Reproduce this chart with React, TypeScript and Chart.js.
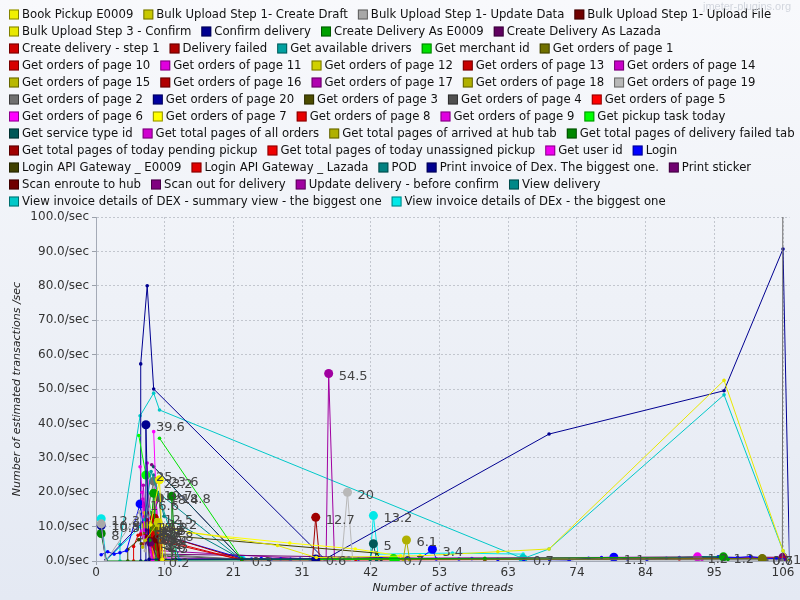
import React, { useEffect, useRef } from "react";
import { Chart, registerables } from "chart.js";

Chart.register(...registerables);

const seriesNames = [
  "Book Pickup E0009", "Bulk Upload Step 1- Create Draft", "Bulk Upload Step 1- Update Data", "Bulk Upload Step 1- Upload File",
  "Bulk Upload Step 3 - Confirm", "Confirm delivery", "Create Delivery As E0009", "Create Delivery As Lazada",
  "Create delivery - step 1", "Delivery failed", "Get available drivers", "Get merchant id", "Get orders of page 1",
  "Get orders of page 10", "Get orders of page 11", "Get orders of page 12", "Get orders of page 13", "Get orders of page 14",
  "Get orders of page 15", "Get orders of page 16", "Get orders of page 17", "Get orders of page 18", "Get orders of page 19",
  "Get orders of page 2", "Get orders of page 20", "Get orders of page 3", "Get orders of page 4", "Get orders of page 5",
  "Get orders of page 6", "Get orders of page 7", "Get orders of page 8", "Get orders of page 9", "Get pickup task today",
  "Get service type id", "Get total pages of all orders", "Get total pages of arrived at hub tab", "Get total pages of delivery failed tab",
  "Get total pages of today pending pickup", "Get total pages of today unassigned pickup", "Get user id", "Login",
  "Login API Gateway _ E0009", "Login API Gateway _ Lazada", "POD", "Print invoice of Dex. The biggest one.", "Print sticker",
  "Scan enroute to hub", "Scan out for delivery", "Update delivery - before confirm", "View delivery",
  "View invoice details of DEX - summary view - the biggest one", "View invoice details of DEx - the biggest one",
];

const seriesColors = [
  "#f0f000", "#c8c800", "#a8a8a8", "#700000",
  "#e8e800", "#000090", "#00a000", "#600060",
  "#d00000", "#b00000", "#00a0a0", "#00e000", "#707000",
  "#d80000", "#e000e0", "#d0d000", "#c80000", "#c800c8",
  "#b8b800", "#b00000", "#b000b0", "#b0b000", "#b8b8b8",
  "#707070", "#0000a0", "#4c4c00", "#505050", "#ff0000",
  "#ff00ff", "#ffff00", "#e80000", "#e000e0", "#00ff00",
  "#005858", "#d000d0", "#b0b000", "#008800",
  "#a00000", "#f00000", "#f000f0", "#0000ff",
  "#404000", "#e00000", "#008080", "#000090", "#700070",
  "#700000", "#800080", "#a000a0", "#008888",
  "#00c8c8", "#00e8e8",
];

// [threads, transactions/sec]
const d01 = [[8.4, 10.5], [9.8, 23.6], [10.3, 0.5]];
const d02 = [[7.6, 6], [9.6, 11.2], [10.1, 0.4]];
const d03 = [[0.8, 10.8], [1.5, 0], [6.7, 14.3], [7.6, 3]];
const d04 = [[7.8, 7], [9.4, 6.4], [9.9, 0.3]];
const d05 = [[9.3, 12], [10.5, 9.5], [28, 4.5], [34, 1], [50, 1.5], [62, 2.7], [69.9, 3.5], [96.9, 52.5], [106, 3], [107, 0]];
const d06 = [[7.7, 0], [7.7, 39.6], [8.2, 0.5], [33.9, 0.6]];
const d07 = [[8.3, 6], [8.9, 19.7], [9.3, 0.4], [22.5, 0.5], [60, 0.8], [96.8, 1.2], [97.5, 0.5]];
const d08 = [[7.8, 9], [8.4, 5.5], [9.6, 0.3]];
const d09 = [[6.9, 7.8], [8.6, 7.5], [10.5, 5.5], [22.5, 0.3]];
const d10 = [[7.4, 5], [9.0, 12.5], [9.7, 0.5]];
const d11 = [[7.5, 12], [8.5, 26], [12.9, 0.3], [22.5, 0.4]];
const d12 = [[9.8, 35.7], [22.5, 0.5], [34, 0.4], [45.9, 0.7], [46.6, 0.3]];
const d13 = [[7.3, 8], [9.2, 9.5], [10, 0.3], [60, 0.5], [102.8, 0.7]];
const d14 = [[7.9, 12], [9.0, 8.0], [9.6, 0.2]];
const d15 = [[7.1, 20], [7.4, 8.2], [8.8, 0.2]];
const d16 = [[7.4, 14], [8.2, 10.2], [9.0, 0.2]];
const d17 = [[8.1, 9], [9.5, 4.3], [10.0, 0.2]];
const d18 = [[7.2, 18], [8.0, 7.0], [8.7, 0.3]];
const d19 = [[7.2, 4], [7.7, 10.2], [8.3, 0.5]];
const d20 = [[8.3, 11], [9.9, 6.0], [10.4, 0.3]];
const d21 = [[7.3, 22], [7.8, 6.8], [8.5, 0.2]];
const d22 = [[8.5, 9], [9.6, 0.4], [47.4, 0.5], [47.9, 6.1], [48.4, 0.3]];
const d23 = [[8.2, 15], [9.4, 0.3], [37.9, 0.3], [38.8, 20], [39.6, 0.2]];
const d24 = [[7.5, 10], [8.9, 23.2], [9.6, 2], [22.5, 0.5], [105.9, 0.3], [106, 160]];
const d25 = [[0.8, 10.3], [1.5, 0.2], [7.0, 11], [8.8, 9.5], [9.5, 0.3]];
const d26 = [[7.0, 5], [8.5, 6.5], [9.4, 0.3]];
const d27 = [[8.6, 13], [9.8, 18.4], [10.3, 1.5], [22.5, 0.5], [102.8, 0.6], [103.5, 0.3]];
const d28 = [[7.5, 13], [8.2, 9.0], [8.9, 0.4]];
const d29 = [[8.9, 37.6], [9.6, 2], [10.2, 0.3]];
const d30 = [[7.5, 14], [9.8, 11], [14.4, 8.2], [29.9, 5.2], [40, 3.5], [47, 1.5]];
const d31 = [[7.8, 10], [9.1, 4.6], [9.6, 0.3]];
const d32 = [[7.9, 28.5], [8.4, 8.8], [9.2, 0.2]];
const d33 = [[6.6, 36.5], [7.7, 25], [8.6, 12], [9.7, 0.2]];
const d34 = [[8.9, 27.4], [22.5, 0.5], [42.3, 0.5], [42.8, 5], [43.3, 0.3]];
const d35 = [[7.3, 16], [8.0, 8.5], [8.8, 0.3]];
const d36 = [[9.0, 5], [10.3, 7.8], [10.8, 0.3]];
const d37 = [[0.8, 8], [1.6, 0], [11.7, 0], [11.7, 18.8], [12.3, 0.5], [22.5, 0.5]];
const d38 = [[9.5, 8], [22.5, 0.5], [33.4, 0.3], [33.9, 12.7], [34.5, 0.3]];
const d39 = [[8.2, 14], [9.3, 3], [9.9, 0.2]];
const d40 = [[6.8, 27.4], [7.5, 12], [8.8, 1], [22.5, 0.5], [92.8, 1.2], [93.5, 0.5]];
const d41 = [
  [0.8, 1.8], [1.8, 2.7], [2.8, 2.0], [3.7, 2.4], [4.7, 3.0], [6.8, 16.6], [7.4, 9], [9.5, 7.5], [11.8, 6.7],
  [22.5, 0.8], [24, 0.6], [25.5, 0.7], [27, 0.5], [28.5, 0.6], [30, 0.5], [31.5, 0.6], [33, 0.5], [36, 0.6],
  [37.5, 0.8], [39, 0.9], [40.5, 0.6], [44, 0.7], [46, 0.6], [48, 0.8], [50, 0.7], [51.9, 3.4], [52.5, 0.6],
  [56, 0.6], [58, 0.7], [60, 0.6], [62, 0.5], [66, 0.4], [70, 0.4], [73, 0.3], [76, 0.8], [78, 1.0], [79.9, 1.1],
  [82, 0.6], [85, 0.5], [88, 0.8], [90, 1.0], [93, 1.3], [96, 1.2], [99, 1.0], [101, 1.3], [103, 0.8], [105, 0.7], [106, 0.5],
];
const d42 = [[4.9, 0], [4.9, 3.4], [6.6, 6.2], [9.5, 8.0], [10.5, 7.5], [43.3, 2.3], [44, 0.5]];
const d43 = [[5.8, 0], [5.8, 4.2], [6.5, 7.5], [8, 8], [9.5, 6.5], [22.5, 0.3], [40, 0.3], [60, 0.4], [90, 0.6], [106, 0.9]];
const d44 = [[8.9, 25], [10.5, 13], [22.5, 0.5]];
const d45 = [[6.9, 0], [6.9, 57.3], [7.9, 80], [8.9, 50], [35.3, 0.5], [69.9, 36.9], [96.9, 49.5], [106, 90.7], [107, 0]];
const d46 = [[8.5, 14], [10, 2], [50, 0.8], [106, 1.1]];
const d47 = [[7.6, 6], [8.8, 5.2], [9.3, 0.2]];
const d48 = [[8.6, 28], [22.5, 0.5], [30, 0.3]];
const d49 = [[9.2, 20], [9.8, 3], [35.5, 0.3], [35.9, 54.5], [36.8, 0.2]];
const d50 = [[9.5, 20], [22.5, 0.3], [30, 0.4]];
const d51 = [[3.7, 0], [3.7, 4.8], [6.8, 42.2], [8.9, 48.8], [9.8, 43.9], [65.9, 0.7], [69.9, 3.5], [96.9, 48.3], [106, 3], [107, 0.3]];
const d52 = [[0.8, 12.3], [1.6, 0.2], [6.9, 10], [8.0, 14], [12.9, 0.3], [22.5, 0.3], [42.3, 0.6], [42.8, 13.2], [43.5, 2], [55, 2.3], [65.9, 2]];

const seriesData = [
  d01, d02, d03, d04, d05, d06, d07, d08, d09, d10, d11, d12, d13, d14, d15, d16, d17, d18, d19, d20,
  d21, d22, d23, d24, d25, d26, d27, d28, d29, d30, d31, d32, d33, d34, d35, d36, d37, d38, d39, d40,
  d41, d42, d43, d44, d45, d46, d47, d48, d49, d50, d51, d52,
];

// indices of the points that carry a value marker
const markIdx = [
  [1], [1], [0], [1], [], [1, 3], [1, 5], [1], [1], [1], [], [3], [1, 4], [1], [1], [1], [1], [1], [1], [1],
  [1], [3], [3], [1], [0, 3], [1], [1, 4], [1], [], [], [1], [1], [1, 3], [3], [1], [1], [0, 3], [3], [1], [4],
  [5, 25, 36], [], [], [], [], [3], [1], [], [3], [], [5], [0, 5, 7],
];

const xTickValues = [0, 10.6, 21.2, 31.8, 42.4, 53, 63.6, 74.2, 84.8, 95.4, 106];
const xTickLabels = ["0", "10", "21", "31", "42", "53", "63", "74", "84", "95", "106"];
const yTickStep = 10;

const FONT = '"DejaVu Sans", "Noto Sans", sans-serif';

const fmt = (v: number) => {
  const r = Math.round(v * 10) / 10;
  return Number.isInteger(r) ? String(r) : r.toFixed(1);
};

const legendPlugin = {
  id: "jmLegend",
  afterDraw(chart: any) {
    const c = chart.ctx as CanvasRenderingContext2D;
    c.save();
    c.font = `11.7px ${FONT}`;
    c.textBaseline = "middle";
    c.textAlign = "left";
    let x = 9;
    let y = 14.5;
    chart.data.datasets.forEach((ds: any) => {
      const w = 13 + c.measureText(ds.label).width;
      if (x > 9 && x + w > 797) {
        x = 9;
        y += 17;
      }
      c.fillStyle = ds.borderColor;
      c.fillRect(x, y - 5, 10, 10);
      c.strokeStyle = "rgba(0,0,0,0.45)";
      c.lineWidth = 1;
      c.strokeRect(x + 0.5, y - 4.5, 9, 9);
      c.fillStyle = "#111";
      c.fillText(ds.label, x + 13, y);
      x += w + 10;
    });
    c.font = `11px "Liberation Sans", sans-serif`;
    c.fillStyle = "#d2d6de";
    c.textAlign = "right";
    c.fillText("jmeter-plugins.org", 791, 7);
    c.restore();
  },
};

const valueLabelPlugin = {
  id: "jmValues",
  afterDatasetsDraw(chart: any) {
    const c = chart.ctx as CanvasRenderingContext2D;
    c.save();
    c.font = `13px ${FONT}`;
    c.fillStyle = "#444";
    c.textBaseline = "middle";
    c.textAlign = "left";
    chart.data.datasets.forEach((ds: any, i: number) => {
      const meta = chart.getDatasetMeta(i);
      (ds.marks || []).forEach((j: number) => {
        const el = meta.data[j];
        if (!el) return;
        c.fillText(fmt(ds.data[j].y), el.x + 10, el.y + 3);
      });
    });
    c.restore();
  },
};

export default function App() {
  const ref = useRef<HTMLCanvasElement>(null);

  useEffect(() => {
    document.body.style.margin = "0";
    const canvas = ref.current!;
    const datasets = seriesNames.map((name, i) => {
      const marks = new Set(markIdx[i]);
      return {
        label: name,
        data: seriesData[i].map(([x, y]) => ({ x, y })),
        borderColor: seriesColors[i],
        backgroundColor: seriesColors[i],
        borderWidth: 1,
        pointRadius: seriesData[i].map((_, j) => (marks.has(j) ? 4.5 : 1.8)),
        pointBorderWidth: 0,
        pointHoverRadius: 0,
        pointHitRadius: 0,
        fill: false,
        tension: 0,
        marks: markIdx[i],
      };
    });

    const chart = new Chart(canvas, {
      type: "line",
      data: { datasets } as any,
      plugins: [legendPlugin, valueLabelPlugin],
      options: {
        animation: false,
        responsive: false,
        events: [],
        layout: { padding: { top: 217, right: 10.5, left: 0, bottom: 0 } },
        plugins: {
          legend: { display: false },
          tooltip: { enabled: false },
        },
        scales: {
          x: {
            type: "linear",
            min: 0,
            max: 107,
            afterBuildTicks: (s: any) => {
              s.ticks = xTickValues.map((v) => ({ value: v }));
            },
            afterFit: (s: any) => {
              s.height = 39;
            },
            ticks: {
              autoSkip: false,
              maxRotation: 0,
              padding: 1,
              color: "#333",
              font: { family: FONT, size: 12 },
              callback: (_v: any, i: number) => xTickLabels[i],
            },
            grid: { color: "#c2c6ce", tickColor: "#9aa0aa", tickLength: 4, tickBorderDash: [] },
            border: { color: "#a4aab6", dash: [2, 2] },
            title: {
              display: true,
              text: "Number of active threads",
              color: "#222",
              font: { family: FONT, size: 11, style: "italic" },
              padding: { top: 0, bottom: 5 },
            },
          },
          y: {
            type: "linear",
            min: 0,
            max: 100,
            afterFit: (s: any) => {
              s.width = 96;
            },
            ticks: {
              stepSize: yTickStep,
              padding: 3,
              color: "#333",
              font: { family: FONT, size: 12 },
              callback: (v: any) => Number(v).toFixed(1) + "/sec",
            },
            grid: { color: "#c2c6ce", tickColor: "#9aa0aa", tickLength: 4, tickBorderDash: [] },
            border: { color: "#a4aab6", dash: [2, 2] },
            title: {
              display: true,
              text: "Number of estimated transactions /sec",
              color: "#222",
              font: { family: FONT, size: 11, style: "italic" },
              padding: { top: 11, bottom: 0 },
            },
          },
        },
      } as any,
    });
    return () => chart.destroy();
  }, []);

  return (
    <div
      style={{
        width: 800,
        height: 600,
        background: "linear-gradient(180deg, #f8f9fc 0%, #eef1f7 50%, #e4e9f3 100%)",
      }}
    >
      <canvas ref={ref} width={800} height={600} />
    </div>
  );
}
